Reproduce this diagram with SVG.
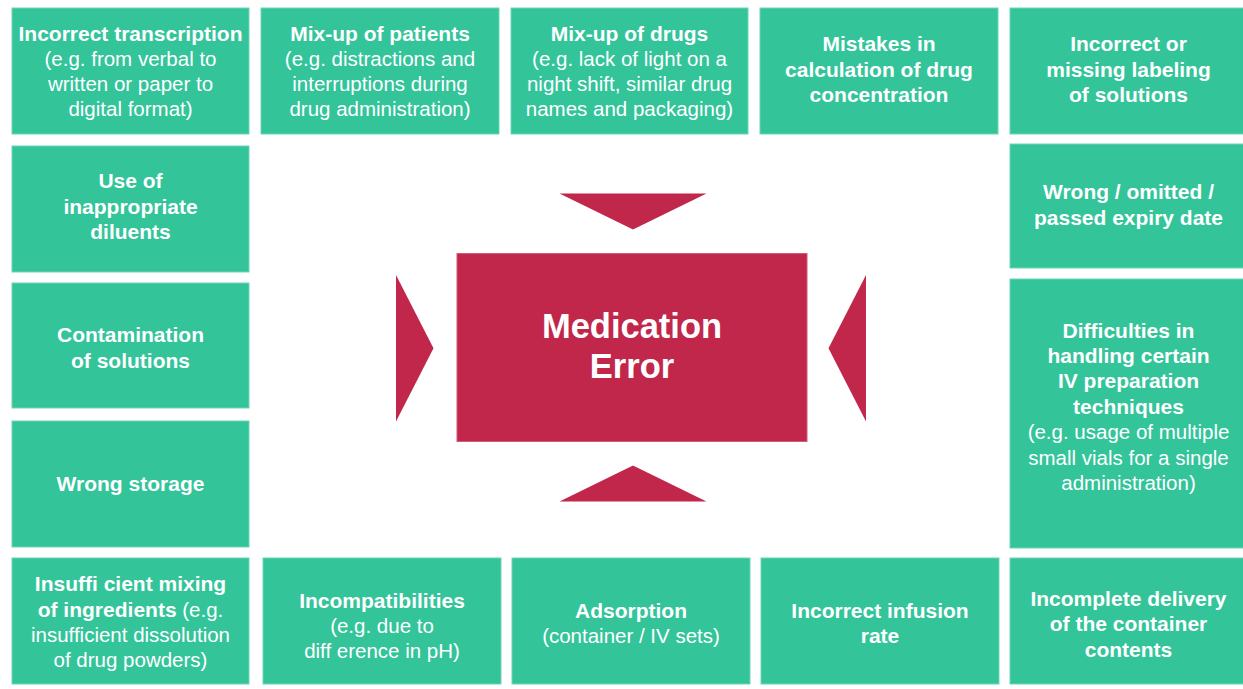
<svg xmlns="http://www.w3.org/2000/svg" width="1243" height="689" viewBox="0 0 1243 689">
<style>
.box{fill:#33c49a;stroke:#6fd5b6;stroke-width:1}
.t{font-family:"Liberation Sans",Arial,sans-serif;fill:#ffffff;text-anchor:middle}
.b{font-weight:bold;font-size:21px}
.r{font-weight:normal;font-size:20.5px}
.arrow{fill:#c1274b}
.center{fill:#c1274b;stroke:#d45a75;stroke-width:1}
.ct{font-family:"Liberation Sans",Arial,sans-serif;fill:#ffffff;text-anchor:middle;font-weight:bold;font-size:34.5px}
</style>
<rect x="0" y="0" width="1243" height="689" fill="#ffffff"/>

<g id="n1"><rect class="box" x="12" y="8" width="237" height="126"/>
<text class="t" x="130.5"><tspan class="b" x="130.5" y="41">Incorrect transcription</tspan><tspan class="r" x="130.5" y="66">(e.g. from verbal to</tspan><tspan class="r" x="130.5" y="91">written or paper to</tspan><tspan class="r" x="130.5" y="116">digital format)</tspan></text></g>

<g id="n2"><rect class="box" x="261" y="8" width="238" height="126"/>
<text class="t"><tspan class="b" x="380" y="41">Mix-up of patients</tspan><tspan class="r" x="380" y="66">(e.g. distractions and</tspan><tspan class="r" x="380" y="91">interruptions during</tspan><tspan class="r" x="380" y="116">drug administration)</tspan></text></g>

<g id="n3"><rect class="box" x="511" y="8" width="237" height="126"/>
<text class="t"><tspan class="b" x="629.5" y="41">Mix-up of drugs</tspan><tspan class="r" x="629.5" y="66">(e.g. lack of light on a</tspan><tspan class="r" x="629.5" y="91">night shift, similar drug</tspan><tspan class="r" x="629.5" y="116">names and packaging)</tspan></text></g>

<g id="n4"><rect class="box" x="760" y="8" width="238" height="126"/>
<text class="t"><tspan class="b" x="879" y="51">Mistakes in</tspan><tspan class="b" x="879" y="76.5">calculation of drug</tspan><tspan class="b" x="879" y="102">concentration</tspan></text></g>

<g id="n5"><rect class="box" x="1010" y="8" width="237" height="126"/>
<text class="t"><tspan class="b" x="1128.5" y="51">Incorrect or</tspan><tspan class="b" x="1128.5" y="76.5">missing labeling</tspan><tspan class="b" x="1128.5" y="102">of solutions</tspan></text></g>

<g id="n6"><rect class="box" x="12" y="146" width="237" height="126"/>
<text class="t"><tspan class="b" x="130.5" y="187.5">Use of</tspan><tspan class="b" x="130.5" y="213.5">inappropriate</tspan><tspan class="b" x="130.5" y="239">diluents</tspan></text></g>

<g id="n7"><rect class="box" x="12" y="283" width="237" height="125"/>
<text class="t"><tspan class="b" x="130.5" y="341.5">Contamination</tspan><tspan class="b" x="130.5" y="367.5">of solutions</tspan></text></g>

<g id="n8"><rect class="box" x="12" y="421" width="237" height="126"/>
<text class="t"><tspan class="b" x="130.5" y="490.5">Wrong storage</tspan></text></g>

<g id="n9"><rect class="box" x="1010" y="144" width="237" height="124"/>
<text class="t"><tspan class="b" x="1128.5" y="199">Wrong / omitted /</tspan><tspan class="b" x="1128.5" y="225">passed expiry date</tspan></text></g>

<g id="n10"><rect class="box" x="1010" y="279" width="237" height="269"/>
<text class="t"><tspan class="b" x="1128.5" y="337.5">Difficulties in</tspan><tspan class="b" x="1128.5" y="362.9">handling certain</tspan><tspan class="b" x="1128.5" y="388.3">IV preparation</tspan><tspan class="b" x="1128.5" y="413.7">techniques</tspan><tspan class="r" x="1128.5" y="439.1">(e.g. usage of multiple</tspan><tspan class="r" x="1128.5" y="464.5">small vials for a single</tspan><tspan class="r" x="1128.5" y="489.9">administration)</tspan></text></g>

<g id="n11"><rect class="box" x="12" y="558" width="237" height="126"/>
<text class="t"><tspan class="b" x="130.5" y="591">Insuffi cient mixing</tspan><tspan x="130.5" y="616.5"><tspan class="b">of ingredients</tspan><tspan class="r"> (e.g.</tspan></tspan><tspan class="r" x="130.5" y="642">insufficient dissolution</tspan><tspan class="r" x="130.5" y="667">of drug powders)</tspan></text></g>

<g id="n12"><rect class="box" x="263" y="558" width="238" height="126"/>
<text class="t"><tspan class="b" x="382" y="607.5">Incompatibilities</tspan><tspan class="r" x="382" y="632.5">(e.g. due to</tspan><tspan class="r" x="382" y="657.5">diff erence in pH)</tspan></text></g>

<g id="n13"><rect class="box" x="512" y="558" width="238" height="126"/>
<text class="t"><tspan class="b" x="631" y="617.5">Adsorption</tspan><tspan class="r" x="631" y="643">(container / IV sets)</tspan></text></g>

<g id="n14"><rect class="box" x="761" y="558" width="238" height="126"/>
<text class="t"><tspan class="b" x="880" y="617.5">Incorrect infusion</tspan><tspan class="b" x="880" y="643">rate</tspan></text></g>

<g id="n15"><rect class="box" x="1010" y="558" width="237" height="126"/>
<text class="t"><tspan class="b" x="1128.5" y="605.5">Incomplete delivery</tspan><tspan class="b" x="1128.5" y="631">of the container</tspan><tspan class="b" x="1128.5" y="656.5">contents</tspan></text></g>

<g id="center"><rect class="center" x="457" y="253.5" width="350" height="188"/>
<text class="ct"><tspan x="632" y="338">Medication</tspan><tspan x="632" y="378">Error</tspan></text></g>

<g id="connectors">
<polygon class="arrow" points="559.5,193.5 706.5,193.5 633,229.5"/>
<polygon class="arrow" points="559.5,501.5 706.5,501.5 633,465.5"/>
<polygon class="arrow" points="396,275 396,421.5 433.5,348.3"/>
<polygon class="arrow" points="866,275 866,421.5 828.5,348.3"/>
</g>
</svg>
